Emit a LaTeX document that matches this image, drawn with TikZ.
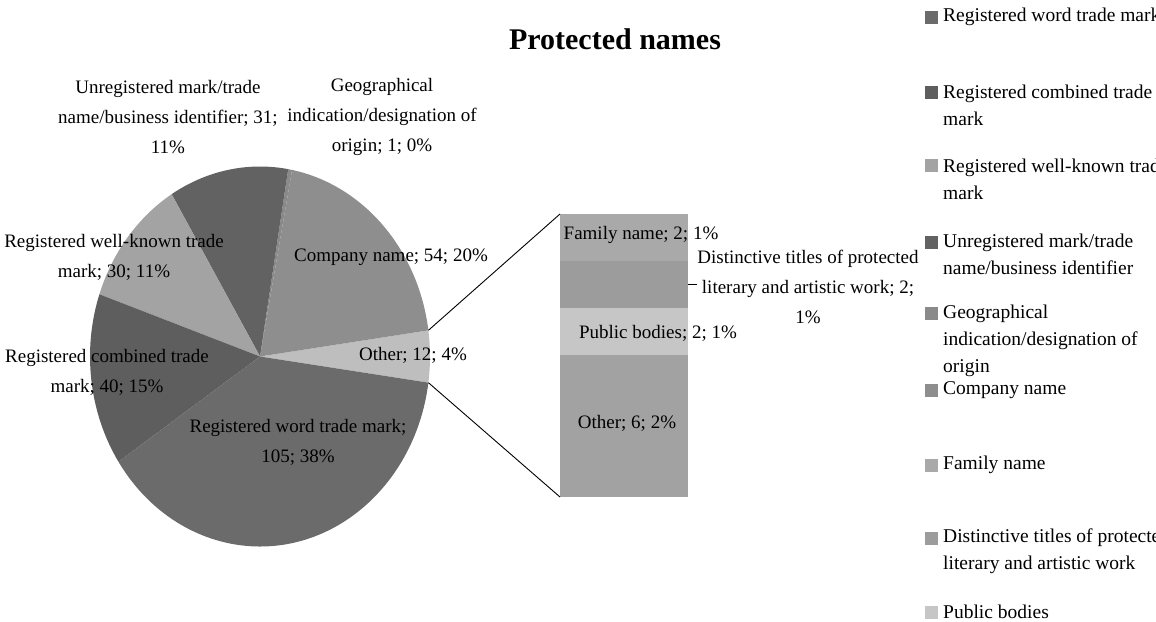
\documentclass[tikz,border=0pt]{standalone}
\usepackage{fontspec}
\setmainfont{Liberation Serif}
\usetikzlibrary{positioning}

\definecolor{wordc}{HTML}{6B6B6B}
\definecolor{combc}{HTML}{5E5E5E}
\definecolor{wellc}{HTML}{A3A3A3}
\definecolor{unregc}{HTML}{626262}
\definecolor{geoc}{HTML}{8A8A8A}
\definecolor{compc}{HTML}{8E8E8E}
\definecolor{otherc}{HTML}{BEBEBE}
\definecolor{famc}{HTML}{A9A9A9}
\definecolor{distc}{HTML}{9C9C9C}
\definecolor{pubc}{HTML}{C6C6C6}
\definecolor{restc}{HTML}{A2A2A2}

\begin{document}
\begin{tikzpicture}[x=1pt, y=-1pt,
    lbl/.style={font=\fontsize{19}{30}\selectfont, align=center, inner sep=0},
    legtxt/.style={font=\fontsize{19.5}{27}\selectfont, align=left,
                   anchor=west, inner sep=0},
    legbox/.style={minimum size=13pt, inner sep=0},
    seg/.style={minimum width=128pt, inner sep=0, outer sep=0}
  ]
  \useasboundingbox (0,0) rectangle (1156,621);
  \node[font=\fontsize{30}{36}\selectfont\bfseries] (title) at (615,39)
    {Protected names};

  % pie, 273 names in all, "Other" centred on the right
  \coordinate (pc) at (260,356.5);
  \xdef\acc{-7.91}
  \foreach \v/\col in {12/otherc, 54/compc, 1/geoc, 31/unregc, 30/wellc,
                       40/combc, 105/wordc} {
    \pgfmathsetmacro{\aa}{-1*(\acc)}
    \pgfmathsetmacro{\ab}{-1*(\acc)-\v*1.318681}
    \fill[\col] (pc) -- ++(\aa:170 and 190)
      arc[start angle=\aa, end angle=\ab, x radius=170, y radius=190] -- cycle;
    \pgfmathsetmacro{\nacc}{\acc+\v*1.318681}
    \xdef\acc{\nacc}
  }
  \path (pc) ++(-7.91:170 and 190) coordinate (otop);
  \path (pc) ++(7.91:170 and 190) coordinate (obot);

  \node[lbl] (unreglbl) at (168,117)
    {Unregistered mark/trade\\name/business identifier; 31;\\11\%};
  \node[lbl] (geolbl) at (382,117)
    {Geographical\\indication/designation of\\origin; 1; 0\%};
  \node[lbl] (welllbl) at (114,257.5) {Registered well-known trade\\mark; 30; 11\%};
  \node[lbl] (comblbl) at (107,372) {Registered combined trade\\mark; 40; 15\%};
  \node[lbl] (wordlbl) at (298,442.5) {Registered word trade mark;\\105; 38\%};
  \node[lbl] (complbl) at (391,257) {Company name; 54; 20\%};
  \node[lbl] (otherlbl) at (413,355) {Other; 12; 4\%};

  % bar of the "Other" slice
  \node[seg, minimum height=47pt, fill=famc] (fam) at (624,237.5) {};
  \node[seg, minimum height=47pt, fill=distc, below=0pt of fam] (dist) {};
  \node[seg, minimum height=47pt, fill=pubc, below=0pt of dist] (pub) {};
  \node[seg, minimum height=142pt, fill=restc, below=0pt of pub] (rest) {};
  \draw[line width=0.9pt] (otop) -- (fam.north west);
  \draw[line width=0.9pt] (obot) -- (rest.south west);

  \node[lbl] (famlbl) at (641,235) {Family name; 2; 1\%};
  \node[lbl] (distlbl) at (808,287)
    {Distinctive titles of protected\\literary and artistic work; 2;\\1\%};
  \draw[line width=0.9pt] (dist.east) -- (dist.east -| distlbl.west);
  \node[lbl] (publbl) at (658,333) {Public bodies; 2; 1\%};
  \node[lbl] (restlbl) at (627,423) {Other; 6; 2\%};

  % legend
  \foreach \yb/\yc/\col/\txt [count=\i] in {
      17/17/wordc/{Registered word trade mark},
      92/105/combc/{Registered combined trade\\mark},
      165/179/wellc/{Registered well-known trade\\mark},
      242/254.5/unregc/{Unregistered mark/trade\\name/business identifier},
      313/340.5/geoc/{Geographical\\indication/designation of\\origin},
      390/390/compc/{Company name},
      465/465/famc/{Family name},
      538/551.5/distc/{Distinctive titles of protected\\literary and artistic work},
      612/612/pubc/{Public bodies}} {
    \node[legbox, fill=\col] (key\i) at (931.5,\yb) {};
    \node[legtxt] (entry\i) at (943,\yc) {\txt};
  }
\end{tikzpicture}
\end{document}
